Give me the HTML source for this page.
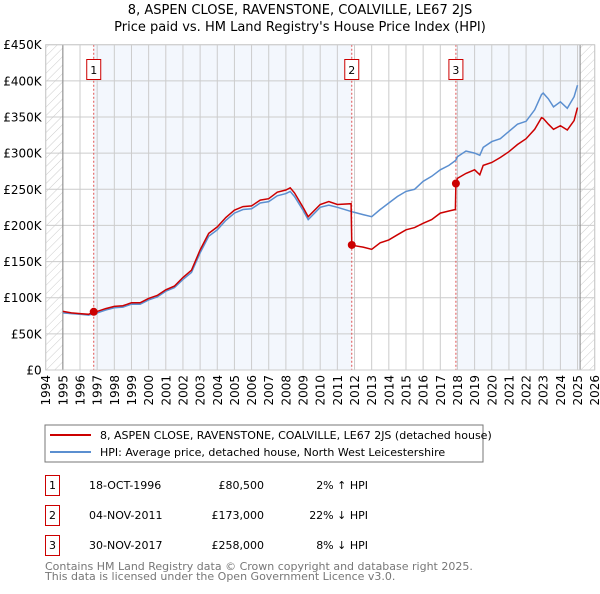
<!DOCTYPE html>
<html><head><meta charset="utf-8"><style>
body{margin:0;background:#fff;width:600px;height:590px;overflow:hidden;font-family:"DejaVu Sans","Liberation Sans",sans-serif}
svg text{font-family:"DejaVu Sans","Liberation Sans",sans-serif}
</style></head><body>
<svg id="chart" width="600" height="590" xmlns="http://www.w3.org/2000/svg">
<defs><pattern id="hatch" width="6" height="6" patternUnits="userSpaceOnUse" patternTransform="rotate(45)"><line x1="0" y1="0" x2="0" y2="6" stroke="#ccc" stroke-width="1"/></pattern></defs>
<text x="300" y="14" text-anchor="middle" font-size="13">8, ASPEN CLOSE, RAVENSTONE, COALVILLE, LE67 2JS</text>
<text x="300" y="31" text-anchor="middle" font-size="13">Price paid vs. HM Land Registry's House Price Index (HPI)</text>
<g id="plot"></g>
<rect x="45" y="425" width="438" height="37" fill="#fff" stroke="#777"/>
<line x1="50" y1="435" x2="91" y2="435" stroke="#cc0000" stroke-width="2"/>
<text x="100" y="439" font-size="11">8, ASPEN CLOSE, RAVENSTONE, COALVILLE, LE67 2JS (detached house)</text>
<line x1="50" y1="452" x2="91" y2="452" stroke="#5b8fd0" stroke-width="2"/>
<text x="100" y="456" font-size="11">HPI: Average price, detached house, North West Leicestershire</text>
<g font-size="11">
<rect x="45.5" y="475.5" width="14" height="20" fill="#fff" stroke="#cc0000"/><text x="52.5" y="489" text-anchor="middle">1</text>
<text x="89" y="489">18-OCT-1996</text><text x="264" y="489" text-anchor="end">£80,500</text><text x="368" y="489" text-anchor="end">2% ↑ HPI</text>
<rect x="45.5" y="505.5" width="14" height="20" fill="#fff" stroke="#cc0000"/><text x="52.5" y="519" text-anchor="middle">2</text>
<text x="89" y="519">04-NOV-2011</text><text x="264" y="519" text-anchor="end">£173,000</text><text x="368" y="519" text-anchor="end">22% ↓ HPI</text>
<rect x="45.5" y="535.5" width="14" height="20" fill="#fff" stroke="#cc0000"/><text x="52.5" y="549" text-anchor="middle">3</text>
<text x="89" y="549">30-NOV-2017</text><text x="264" y="549" text-anchor="end">£258,000</text><text x="368" y="549" text-anchor="end">8% ↓ HPI</text>
</g>
<text x="45" y="570" font-size="11" fill="#777">Contains HM Land Registry data © Crown copyright and database right 2025.</text>
<text x="45" y="580" font-size="11" fill="#777">This data is licensed under the Open Government Licence v3.0.</text>
</svg>
<script>
const hpiYears=[1995,1995.5,1996,1996.5,1997,1997.5,1998,1998.5,1999,1999.5,2000,2000.5,2001,2001.5,2002,2002.5,2003,2003.5,2004,2004.5,2005,2005.5,2006,2006.5,2007,2007.5,2008,2008.25,2008.5,2009,2009.3,2010,2010.5,2011,2011.84,2012,2012.5,2013,2013.5,2014,2014.5,2015,2015.5,2016,2016.5,2017,2017.5,2017.9,2018,2018.5,2019,2019.3,2019.5,2020,2020.5,2021,2021.5,2022,2022.5,2022.9,2023,2023.3,2023.6,2024,2024.4,2024.8,2025];
const hpiValues=[79,78,77,76,79,83,86,87,91,91,97,101,109,114,125,135,162,185,194,207,217,222,223,231,233,241,244,247,240,221,208,225,228,225,219,218,215,212,222,231,240,247,250,261,268,277,283,290,295,303,300,297,308,316,320,330,340,344,360,381,383,375,364,371,362,378,394];
const priceYears=[1995,1995.5,1996,1996.5,1996.8,1997,1997.5,1998,1998.5,1999,1999.5,2000,2000.5,2001,2001.5,2002,2002.5,2003,2003.5,2004,2004.5,2005,2005.5,2006,2006.5,2007,2007.5,2008,2008.25,2008.5,2009,2009.3,2010,2010.5,2011,2011.8,2011.84,2012,2012.5,2013,2013.5,2014,2014.5,2015,2015.5,2016,2016.5,2017,2017.5,2017.88,2017.91,2018,2018.5,2019,2019.3,2019.5,2020,2020.5,2021,2021.5,2022,2022.5,2022.9,2023,2023.3,2023.6,2024,2024.4,2024.8,2025];
const priceValues=[81,79,78,77,80.5,81,85,88,89,93,93,99,103,111,116,128,138,166,189,198,211,221,226,227,235,237,246,249,252,245,225,212,229,233,229,230,173,172,170,167,176,180,187,194,197,203,208,217,220,222,258,265,272,277,270,283,287,294,302,312,320,333,349,348,340,333,338,332,345,363];
const saleYears=[1996.8,2011.84,2017.91];
const saleValues=[80.5,173,258];
const saleLabels=["1","2","3"];
const yTicks=[0,50,100,150,200,250,300,350,400,450];
const yTickLabels=["£0","£50K","£100K","£150K","£200K","£250K","£300K","£350K","£400K","£450K"];
const xTicks=[1994,1995,1996,1997,1998,1999,2000,2001,2002,2003,2004,2005,2006,2007,2008,2009,2010,2011,2012,2013,2014,2015,2016,2017,2018,2019,2020,2021,2022,2023,2024,2025,2026];

const X0=45.7,X1=594.7,Y0=370,Y1=44.7;
const xs=y=>X0+(y-1994)/32*(X1-X0);
const ys=v=>Y0-v/450*(Y0-Y1);
const NS="http://www.w3.org/2000/svg";
const g=document.getElementById('plot');
function mk(t,a){const e=document.createElementNS(NS,t);for(const k in a)e.setAttribute(k,a[k]);g.appendChild(e);return e;}
let e;
e=mk('rect',{x:X0,y:Y1,width:X1-X0,height:Y0-Y1,fill:'#fff'});


e=mk('rect',{x:xs(saleYears[0]),y:Y1,width:xs(saleYears[1])-xs(saleYears[0]),height:Y0-Y1,fill:'#eef3fc',opacity:0.7});


e=mk('rect',{x:xs(saleYears[2]),y:Y1,width:xs(2025.15)-xs(saleYears[2]),height:Y0-Y1,fill:'#eef3fc',opacity:0.7});


e=mk('rect',{x:X0,y:Y1,width:xs(1995)-X0,height:Y0-Y1,fill:'url(#hatch)'});


e=mk('rect',{x:xs(2025.15),y:Y1,width:X1-xs(2025.15),height:Y0-Y1,fill:'url(#hatch)'});


yTicks.forEach((v,i)=>{
 e=mk('line',{x1:X0,x2:X1,y1:ys(v),y2:ys(v),stroke:'#ccc','stroke-width':1});
 
 
 e=mk('text',{x:X0-4,y:ys(v)+4.5,'text-anchor':'end','font-size':12});
 e.textContent=yTickLabels[i];
 
 
});
xTicks.forEach(y=>{
 e=mk('line',{x1:xs(y),x2:xs(y),y1:Y1,y2:Y0,stroke:'#ccc','stroke-width':1});
 
 
 e=mk('text',{x:0,y:0,'text-anchor':'end','font-size':12,transform:`translate(${xs(y)+4.5},${Y0+5}) rotate(-90)`});
 e.textContent=y;
 
 
});
e=mk('line',{x1:xs(1995),x2:xs(1995),y1:Y1,y2:Y0,stroke:'#888'});


e=mk('line',{x1:xs(2025.15),x2:xs(2025.15),y1:Y1,y2:Y0,stroke:'#888'});


saleYears.forEach((y,i)=>{
 e=mk('line',{x1:xs(y),x2:xs(y),y1:Y1,y2:Y0,stroke:'#e05050','stroke-dasharray':'2,2','stroke-width':1});
 
 
 e=mk('rect',{x:xs(y)-7,y:59.5,width:14,height:20,fill:'#fff',stroke:'#cc0000'});
 
 
 e=mk('text',{x:xs(y),y:74,'text-anchor':'middle','font-size':11});
 e.textContent=saleLabels[i];
 
 
});
e=mk('path',{d:hpiYears.map((y,i)=>(i?'L':'M')+xs(y).toFixed(1)+','+ys(hpiValues[i]).toFixed(1)).join(''),fill:'none',stroke:'#5b8fd0','stroke-width':1.5});


e=mk('path',{d:priceYears.map((y,i)=>(i?'L':'M')+xs(y).toFixed(1)+','+ys(priceValues[i]).toFixed(1)).join(''),fill:'none',stroke:'#cc0000','stroke-width':1.5});


saleYears.forEach((y,i)=>{
 e=mk('circle',{cx:xs(y),cy:ys(saleValues[i]),r:4,fill:'#cc0000'});
 
 
});
e=mk('rect',{x:X0,y:Y1,width:X1-X0,height:Y0-Y1,fill:'none',stroke:'#ccc'});


</script>
</body></html>
